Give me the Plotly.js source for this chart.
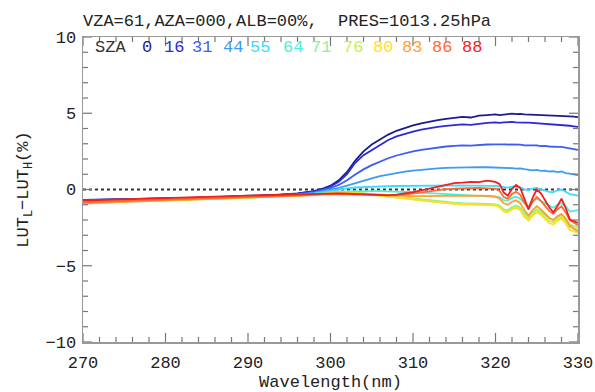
<!DOCTYPE html>
<html>
<head>
<meta charset="utf-8">
<script src="https://cdn.plot.ly/plotly-3.0.1.min.js"></script>
<style>html,body{margin:0;padding:0;background:#fff;}#chart{width:595px;height:392px;}</style>
</head>
<body>
<div id="chart"></div>
<script>
// wavelength grid (nm)
var wavelength = [270,273,276,279,282,285,288,291,294,296,298,
  299,300,301,302,303,304,305,306,307,308,309,310,311,312,313,314,315,316,317,318,319,320,
  320.5,321,321.5,322,322.5,323,323.5,324,324.5,325,325.5,326,326.5,327,327.5,328,328.5,329,329.5,330];

var szaLabels = ["0","16","31","44","55","64","71","76","80","83","86","88"];
var szaColors = ["#1c1c8e","#2a2ad6","#3b5cf5","#3d9bf5","#3fd8ff","#48efd6","#8cf28c","#c6f250","#ffe020","#ffa030","#ff6a30","#ee2020"];

var sza0 = [-0.68,-0.66,-0.63,-0.60,-0.56,-0.52,-0.47,-0.41,-0.33,-0.25,-0.10,
  0.05,0.25,0.6,1.15,1.9,2.5,2.95,3.3,3.6,3.85,4.05,4.2,4.33,4.45,4.55,4.63,4.7,4.76,4.72,4.84,4.88,4.92,
  4.88,4.92,4.95,4.97,4.94,4.96,4.93,4.92,4.9,4.92,4.89,4.9,4.88,4.88,4.86,4.85,4.83,4.8,4.78,4.75];
var sza16 = [-0.70,-0.67,-0.64,-0.61,-0.57,-0.53,-0.48,-0.42,-0.35,-0.27,-0.13,
  0.0,0.2,0.5,1.0,1.75,2.25,2.6,2.95,3.25,3.48,3.66,3.8,3.93,4.03,4.1,4.17,4.22,4.27,4.24,4.33,4.37,4.4,
  4.37,4.4,4.42,4.43,4.4,4.42,4.39,4.38,4.36,4.37,4.33,4.34,4.31,4.3,4.28,4.26,4.22,4.18,4.14,4.1];
var sza31 = [-0.72,-0.69,-0.66,-0.63,-0.59,-0.55,-0.50,-0.44,-0.37,-0.30,-0.17,
  -0.05,0.1,0.3,0.6,0.98,1.32,1.6,1.85,2.05,2.23,2.38,2.5,2.6,2.69,2.76,2.82,2.86,2.9,2.88,2.94,2.95,2.96,
  2.94,2.96,2.95,2.95,2.93,2.94,2.9,2.9,2.88,2.9,2.85,2.86,2.82,2.83,2.8,2.79,2.74,2.7,2.66,2.6];
var sza44 = [-0.74,-0.71,-0.68,-0.65,-0.61,-0.56,-0.51,-0.46,-0.39,-0.33,-0.22,
  -0.12,-0.02,0.1,0.25,0.42,0.58,0.73,0.87,0.98,1.08,1.17,1.24,1.3,1.35,1.39,1.42,1.44,1.46,1.45,1.47,1.46,1.45,
  1.43,1.44,1.42,1.4,1.37,1.38,1.33,1.3,1.25,1.28,1.22,1.24,1.18,1.2,1.14,1.18,1.08,1.04,1.0,0.95];
var sza55 = [-0.76,-0.73,-0.70,-0.66,-0.62,-0.57,-0.52,-0.47,-0.41,-0.35,-0.26,
  -0.17,-0.06,0.02,0.08,0.13,0.16,0.19,0.21,0.22,0.23,0.24,0.25,0.25,0.26,0.26,0.27,0.27,0.27,0.26,0.26,0.25,0.24,
  0.2,0.15,0.12,0.18,0.2,0.14,0.0,-0.05,0.08,0.1,0.0,-0.05,-0.15,-0.18,-0.05,0.0,-0.15,-0.3,-0.35,-0.4];
var sza64 = [-0.78,-0.75,-0.71,-0.67,-0.63,-0.58,-0.53,-0.48,-0.42,-0.37,-0.29,
  -0.22,-0.17,-0.14,-0.12,-0.11,-0.1,-0.1,-0.11,-0.12,-0.14,-0.16,-0.18,-0.21,-0.24,-0.27,-0.3,-0.33,-0.36,-0.38,-0.4,-0.42,-0.45,
  -0.5,-0.7,-0.72,-0.55,-0.47,-0.6,-0.9,-1.1,-0.8,-0.6,-0.75,-0.95,-1.1,-1.2,-1.0,-0.9,-1.1,-1.45,-1.4,-1.35];
var sza71 = [-0.80,-0.77,-0.73,-0.69,-0.65,-0.60,-0.55,-0.50,-0.44,-0.39,-0.32,
  -0.26,-0.2,-0.18,-0.18,-0.2,-0.24,-0.3,-0.36,-0.42,-0.48,-0.54,-0.6,-0.66,-0.72,-0.77,-0.82,-0.86,-0.9,-0.9,-0.92,-0.95,-0.98,
  -1.05,-1.3,-1.35,-1.15,-1.05,-1.2,-1.55,-1.8,-1.5,-1.3,-1.45,-1.7,-1.9,-2.0,-1.8,-1.65,-1.9,-2.3,-2.4,-2.45];
var sza76 = [-0.82,-0.79,-0.75,-0.71,-0.66,-0.61,-0.56,-0.51,-0.45,-0.40,-0.34,
  -0.28,-0.22,-0.2,-0.2,-0.22,-0.27,-0.33,-0.4,-0.47,-0.53,-0.6,-0.66,-0.72,-0.78,-0.83,-0.88,-0.92,-0.96,-0.96,-0.98,-1.0,-1.03,
  -1.12,-1.4,-1.45,-1.25,-1.15,-1.3,-1.7,-1.95,-1.6,-1.4,-1.55,-1.85,-2.05,-2.15,-1.95,-1.8,-2.05,-2.45,-2.55,-2.6];
var sza80 = [-0.84,-0.81,-0.77,-0.73,-0.68,-0.63,-0.58,-0.52,-0.46,-0.41,-0.35,
  -0.29,-0.24,-0.22,-0.22,-0.24,-0.28,-0.34,-0.41,-0.48,-0.55,-0.62,-0.68,-0.74,-0.8,-0.85,-0.9,-0.94,-0.98,-0.98,-1.0,-1.03,-1.06,
  -1.15,-1.45,-1.5,-1.3,-1.2,-1.35,-1.8,-2.05,-1.7,-1.5,-1.65,-1.95,-2.2,-2.3,-2.05,-1.9,-2.2,-2.65,-2.75,-2.85];
var sza83 = [-0.92,-0.84,-0.79,-0.75,-0.70,-0.65,-0.59,-0.53,-0.47,-0.42,-0.36,
  -0.3,-0.27,-0.26,-0.26,-0.27,-0.29,-0.31,-0.34,-0.37,-0.4,-0.42,-0.43,-0.43,-0.42,-0.42,-0.42,-0.41,-0.4,-0.42,-0.4,-0.42,-0.45,
  -0.6,-0.9,-1.0,-0.8,-0.7,-0.9,-1.35,-1.7,-1.35,-1.1,-1.3,-1.6,-1.85,-2.0,-1.75,-1.6,-1.9,-2.4,-2.6,-2.75];
var sza86 = [-0.85,-0.80,-0.75,-0.70,-0.65,-0.60,-0.54,-0.48,-0.42,-0.38,-0.33,
  -0.3,-0.3,-0.31,-0.32,-0.33,-0.35,-0.37,-0.39,-0.4,-0.38,-0.33,-0.26,-0.18,-0.1,-0.03,0.02,0.05,0.07,0.05,0.1,0.08,0.05,
  -0.1,-0.5,-0.6,-0.3,-0.15,-0.35,-0.85,-1.25,-0.8,-0.5,-0.75,-1.1,-1.4,-1.6,-1.3,-1.1,-1.5,-2.0,-2.2,-2.35];
var sza88 = [-0.72,-0.68,-0.63,-0.58,-0.53,-0.48,-0.43,-0.38,-0.33,-0.30,-0.27,
  -0.26,-0.25,-0.26,-0.27,-0.29,-0.31,-0.34,-0.37,-0.38,-0.34,-0.27,-0.17,-0.05,0.08,0.2,0.32,0.42,0.45,0.5,0.48,0.58,0.5,
  0.35,-0.2,-0.4,0.05,0.3,0.1,-0.6,-1.3,-0.55,0.0,-0.25,-0.75,-1.15,-1.5,-1.1,-0.6,-1.2,-1.95,-2.1,-2.2];

var seriesValues = [sza0,sza16,sza31,sza44,sza55,sza64,sza71,sza76,sza80,sza83,sza86,sza88];

var zeroLineX = [270,330];
var zeroLineY = [0,0];

var xTicks = [270,280,290,300,310,320,330];
var yTicks = [-10,-5,0,5,10];
var xMinorStep = 2, yMinorStep = 1;

var legendCenters = [147,174,202,233,260,293,321,353,383,412,442,472]; // px, for label placement

var FONT = "Liberation Mono, Courier New, monospace";

var traces = [{
  x: zeroLineX, y: zeroLineY, mode: "lines",
  line: {color: "#333", width: 2, dash: "dot"}, showlegend: false, hoverinfo: "skip"
}];
seriesValues.forEach(function(v, i){
  traces.push({x: wavelength, y: v, mode: "lines", name: "SZA " + szaLabels[i],
    line: {color: szaColors[i], width: 1.8}, showlegend: false});
});

var L = 83, R = 578, T = 37, B = 342;
var PW = R - L, PH = B - T;
var annotations = [{
  xref: "paper", yref: "paper", x: (110 - L)/PW, y: 1 - (47 - T)/PH,
  text: "SZA", showarrow: false, xanchor: "center", yanchor: "middle",
  font: {family: FONT, size: 17, color: "#333"}
}];
szaLabels.forEach(function(s, i){
  annotations.push({xref: "paper", yref: "paper", x: (legendCenters[i] - L)/PW, y: 1 - (47 - T)/PH,
    text: s, showarrow: false, xanchor: "center", yanchor: "middle",
    font: {family: FONT, size: 17, color: szaColors[i]}});
});

// tick marks on all four sides (inside), positioned through the axes
var shapes = [];
var TICKC = "#777";
function isMajor(v, arr){ return arr.indexOf(v) >= 0; }
for (var xv = xTicks[0]; xv <= xTicks[xTicks.length - 1]; xv += xMinorStep) {
  var lx = (isMajor(xv, xTicks) ? 9 : 5) / PH;
  shapes.push({type: "line", xref: "x", yref: "paper", x0: xv, x1: xv, y0: 0, y1: lx, line: {color: TICKC, width: 1.2}});
  shapes.push({type: "line", xref: "x", yref: "paper", x0: xv, x1: xv, y0: 1, y1: 1 - lx, line: {color: TICKC, width: 1.2}});
}
for (var yv = yTicks[0]; yv <= yTicks[yTicks.length - 1]; yv += yMinorStep) {
  var ly = (isMajor(yv, yTicks) ? 9 : 5) / PW;
  shapes.push({type: "line", xref: "paper", yref: "y", x0: 0, x1: ly, y0: yv, y1: yv, line: {color: TICKC, width: 1.2}});
  shapes.push({type: "line", xref: "paper", yref: "y", x0: 1, x1: 1 - ly, y0: yv, y1: yv, line: {color: TICKC, width: 1.2}});
}

var axisCommon = {
  showgrid: false, zeroline: false, showline: true, linecolor: "#999", linewidth: 1.5,
  mirror: true, ticks: "", tickfont: {family: FONT, size: 17, color: "#222"}
};

var layout = {
  width: 595, height: 392,
  margin: {l: L, r: 595 - R, t: T, b: 392 - B},
  showlegend: false,
  title: {text: "VZA=61,AZA=000,ALB=00%,  PRES=1013.25hPa", x: L/595, xanchor: "left",
    y: 1 - 20/392, yanchor: "middle", font: {family: FONT, size: 17, color: "#222"}},
  xaxis: Object.assign({}, axisCommon, {
    range: [270, 330], tickvals: xTicks, ticklabelstandoff: 4,
    title: {text: "Wavelength(nm)", font: {family: FONT, size: 17, color: "#222"}, standoff: 6}
  }),
  yaxis: Object.assign({}, axisCommon, {
    range: [-10, 10], tickvals: yTicks, ticklabelstandoff: 2,
    title: {text: "LUT<sub>L</sub>\u2212LUT<sub>H</sub>(%)", font: {family: FONT, size: 17, color: "#222"}, standoff: 12}
  }),
  annotations: annotations,
  shapes: shapes
};

Plotly.newPlot("chart", traces, layout, {staticPlot: true, displayModeBar: false});
</script>
</body>
</html>
